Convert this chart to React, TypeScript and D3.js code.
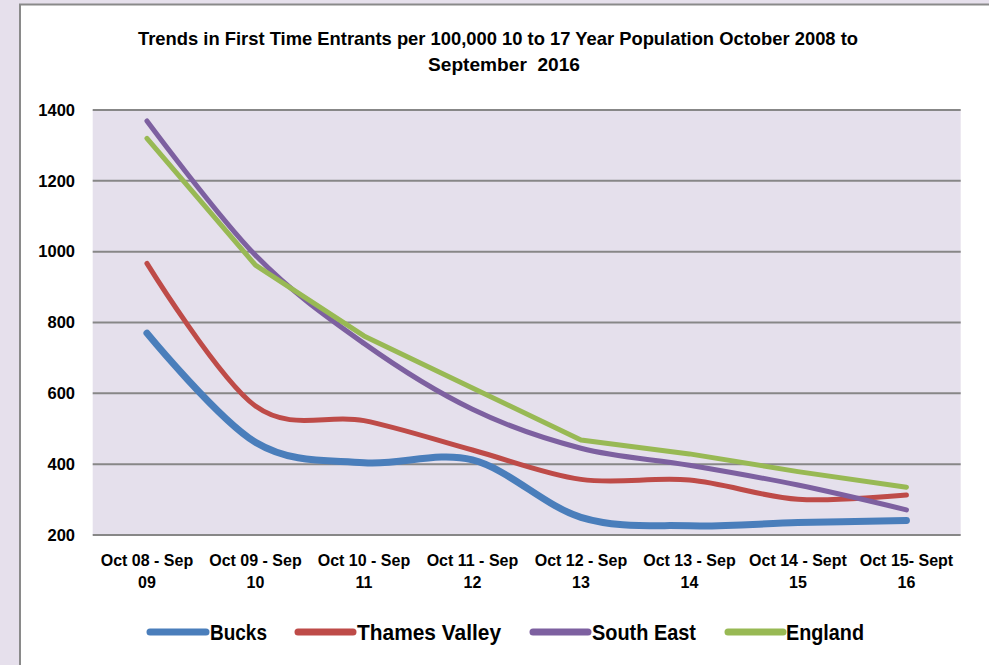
import React from "react";
import * as d3 from "d3";

const categories = [
  ["Oct 08 - Sep", "09"],
  ["Oct 09 - Sep", "10"],
  ["Oct 10 - Sep", "11"],
  ["Oct 11 - Sep", "12"],
  ["Oct 12 - Sep", "13"],
  ["Oct 13 - Sep", "14"],
  ["Oct 14 - Sept", "15"],
  ["Oct 15- Sept", "16"],
];

const bucks = [770, 462, 404, 412, 250, 226, 235, 241];
const thamesValley = [967, 564, 523, 440, 357, 355, 301, 313];
const southEast = [1369, 990, 741, 555, 445, 397, 341, 271];
const england = [1320, 962, 762, 615, 468, 429, 379, 335];

const yTicks = [200, 400, 600, 800, 1000, 1200, 1400];

const titleLines = [
  "Trends in First Time Entrants per 100,000 10 to 17 Year Population October 2008 to",
  "September  2016",
];

const series = [
  { name: "Bucks", values: bucks, color: "#4a7ebb", width: 7, smooth: true },
  { name: "Thames Valley", values: thamesValley, color: "#be4b48", width: 5, smooth: true },
  { name: "South East", values: southEast, color: "#7d60a0", width: 5, smooth: true },
  { name: "England", values: england, color: "#98b954", width: 5, smooth: false },
];

const FONT = "'Liberation Sans', Arial, sans-serif";

export default function App() {
  const W = 989;
  const H = 665;
  const plot = { left: 92.7, right: 960.7, top: 110, bottom: 535 };

  const x = d3
    .scaleBand<number>()
    .domain(categories.map((_, i) => i))
    .range([plot.left, plot.right]);
  const y = d3.scaleLinear().domain([200, 1400]).range([plot.bottom, plot.top]);
  const cx = (i: number) => (x(i) as number) + x.bandwidth() / 2;

  const legendItems = [
    { x1: 150, x2: 206, tx: 210, tw: 57 },
    { x1: 298, x2: 353, tx: 357, tw: 144 },
    { x1: 533, x2: 588, tx: 592, tw: 104 },
    { x1: 728, x2: 783, tx: 786, tw: 78 },
  ];

  const titleLayout = [
    { x: 138, tw: 720, y: 45 },
    { x: 428, tw: 152, y: 71 },
  ];

  return (
    <svg
      width={W}
      height={H}
      style={{ position: "absolute", left: 0, top: 0, fontFamily: FONT }}
    >
      <rect x={0} y={0} width={W} height={H} fill="#e6e0ec" />
      <rect x={20} y={4.5} width={W + 20} height={H + 20} fill="#ffffff" stroke="#8a8a8a" strokeWidth={2} />

      {titleLines.map((t, i) => (
        <text
          key={i}
          x={titleLayout[i].x}
          y={titleLayout[i].y}
          fontWeight="bold"
          fontSize={18.5}
          fill="#000"
          textLength={titleLayout[i].tw}
          lengthAdjust="spacingAndGlyphs"
          style={{ whiteSpace: "pre" }}
        >
          {t}
        </text>
      ))}

      <rect
        x={plot.left}
        y={plot.top}
        width={plot.right - plot.left}
        height={plot.bottom - plot.top}
        fill="#e5e0ec"
      />
      {yTicks.map((v) => (
        <g key={v}>
          <line
            x1={plot.left}
            x2={plot.right}
            y1={y(v)}
            y2={y(v)}
            stroke="#878787"
            strokeWidth={2}
          />
          <text
            x={75}
            y={y(v)}
            dy="0.35em"
            textAnchor="end"
            fontWeight="bold"
            fontSize={16.5}
            fill="#000"
          >
            {v}
          </text>
        </g>
      ))}

      {categories.map((c, i) => (
        <text key={i} textAnchor="middle" fontWeight="bold" fontSize={16} fill="#000">
          <tspan x={cx(i)} y={566}>
            {c[0]}
          </tspan>
          <tspan x={cx(i)} y={588}>
            {c[1]}
          </tspan>
        </text>
      ))}

      {series.map((s) => {
        const line = d3
          .line<number>()
          .x((_, i) => cx(i))
          .y((v) => y(v))
          .curve(s.smooth ? d3.curveCardinal.tension(0) : d3.curveLinear);
        return (
          <path
            key={s.name}
            d={line(s.values) || ""}
            fill="none"
            stroke={s.color}
            strokeWidth={s.width}
            strokeLinecap="round"
            strokeLinejoin="round"
          />
        );
      })}

      {series.map((s, i) => {
        const L = legendItems[i];
        return (
          <g key={s.name}>
            <line
              x1={L.x1}
              x2={L.x2}
              y1={632}
              y2={632}
              stroke={s.color}
              strokeWidth={7}
              strokeLinecap="round"
            />
            <text
              x={L.tx}
              y={639.5}
              fontWeight="bold"
              fontSize={21.5}
              fill="#000"
              textLength={L.tw}
              lengthAdjust="spacingAndGlyphs"
            >
              {s.name}
            </text>
          </g>
        );
      })}
    </svg>
  );
}
